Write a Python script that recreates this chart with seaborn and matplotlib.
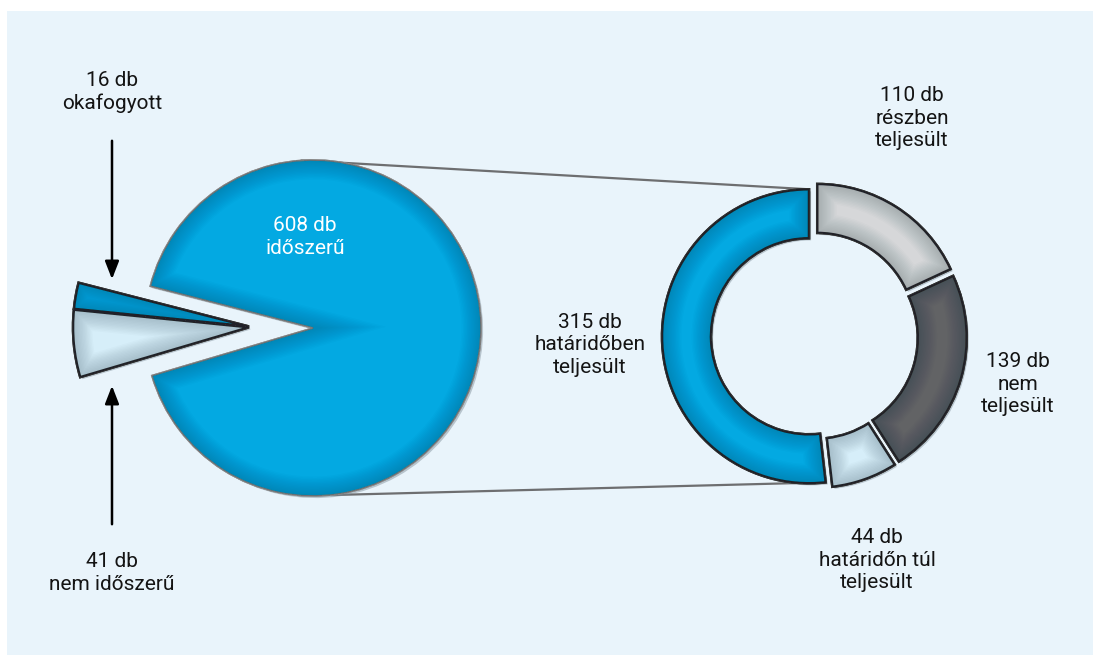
import numpy as np
import pandas as pd
import matplotlib
matplotlib.use("Agg")
import matplotlib.pyplot as plt
import seaborn as sns
from matplotlib.patches import Rectangle, Wedge
import matplotlib.patheffects as pe

# ---- data ----
outer_labels = ["okafogyott", "nem időszerű", "időszerű"]
outer_values = [16, 41, 608]
inner_labels = ["határidőben teljesült", "határidőn túl teljesült", "nem teljesült", "részben teljesült"]
inner_values = [315, 44, 139, 110]

sns.set_theme(style="white")
plt.rcParams['font.family'] = ['Roboto', 'DejaVu Sans']

W, H = 1093, 655
fig = plt.figure(figsize=(W / 100, H / 100), dpi=100)
fig.patch.set_facecolor("white")
ax = fig.add_axes([0, 0, 1, 1])
ax.set_xlim(0, W)
ax.set_ylim(0, H)
ax.set_aspect("equal")
ax.axis("off")

bg = "#e9f4fb"
ax.add_patch(Rectangle((7, 0), W - 7, H - 11, facecolor=bg, edgecolor="none", zorder=0))

blue = "#03a9e2"
light_blue = "#d6eef9"
light_gray = "#d6d7d9"
dark_gray = "#626365"
edge = "#2e2e2e"

shadow = [pe.withSimplePatchShadow(offset=(1.5, -1.5), shadow_rgbFace="#7a8a95", alpha=0.45), pe.Normal()]


def inner_shade(w, color="#001a28", widths=tuple(range(28, 0, -2)), alpha=0.016):
    """Soft bevel: dark translucent outlines clipped to the wedge itself."""
    for lw in widths:
        s = Wedge(w.center, w.r, w.theta1, w.theta2, width=w.width,
                  facecolor="none", edgecolor=color, linewidth=lw, alpha=alpha,
                  zorder=w.get_zorder() + 0.1)
        ax.add_patch(s)
        s.set_clip_path(w)


# big pie (main slice)
cx, cy, R = 313, 327, 168
start = 165.6
big_w, _ = ax.pie(outer_values, colors=["none", "none", blue], startangle=start,
                  counterclock=True, center=(cx, cy), radius=R, frame=True,
                  wedgeprops=dict(edgecolor="none", linewidth=0))
big_w[2].set_edgecolor("#8a8a8a")
big_w[2].set_linewidth(1.2)
big_w[2].set_path_effects(shadow)

# small exploded slices (shifted left)
small_w, _ = ax.pie(outer_values, colors=[blue, light_blue, "none"], startangle=start,
                    counterclock=True, center=(cx - 61, cy + 1), radius=R + 8,
                    explode=[3, 3, 0], frame=True,
                    wedgeprops=dict(edgecolor=edge, linewidth=1.8))
small_w[2].set_edgecolor("none")
for w in small_w[:2]:
    w.set_path_effects(shadow)

# donut
dcx, dcy, DR = 814, 319, 147
don_w, _ = ax.pie(inner_values, colors=[blue, light_blue, dark_gray, light_gray], startangle=90,
                  counterclock=True, center=(dcx, dcy), radius=DR,
                  explode=[5, 5, 6, 6], frame=True,
                  wedgeprops=dict(width=DR / 3, edgecolor=edge, linewidth=1.8))
for w in don_w:
    w.set_path_effects(shadow)

for w in [big_w[2]] + list(small_w[:2]) + list(don_w):
    inner_shade(w)

ax.set_xlim(0, W)
ax.set_ylim(0, H)
ax.axis("off")

# connector lines from big pie to donut's blue segment
bw = don_w[0]
bc = np.array(bw.center)
p_top_d = bc + bw.r * np.array([np.cos(np.radians(bw.theta1)), np.sin(np.radians(bw.theta1))])
p_bot_d = bc + bw.r * np.array([np.cos(np.radians(bw.theta2)), np.sin(np.radians(bw.theta2))])
p_top_b = np.array([cx, cy]) + R * np.array([np.cos(np.radians(94)), np.sin(np.radians(94))])
p_bot_b = np.array([cx, cy]) + R * np.array([np.cos(np.radians(276)), np.sin(np.radians(276))])
for a, b in [(p_top_b, p_top_d), (p_bot_b, p_bot_d)]:
    ax.plot([a[0], b[0]], [a[1], b[1]], color="#6d6e70", lw=1.6, zorder=0.5,
            solid_capstyle="round")

fs = 15
txt = dict(ha="center", va="center", fontsize=fs, color="#141414", linespacing=1.25)


def ty(py):
    return H - py


ax.text(112, ty(92), f"{outer_values[0]} db\n{outer_labels[0]}", **txt)
ax.text(112, ty(573), f"{outer_values[1]} db\n{outer_labels[1]}", **txt)
ax.text(305, ty(237), f"{outer_values[2]} db\nidőszerű", ha="center", va="center",
        fontsize=fs, color="white", linespacing=1.25)
ax.text(590, ty(345), f"{inner_values[0]} db\nhatáridőben\nteljesült", **txt)
ax.text(912, ty(118), f"{inner_values[3]} db\nrészben\nteljesült", **txt)
ax.text(1018, ty(384), f"{inner_values[2]} db\nnem\nteljesült", **txt)
ax.text(877, ty(560), f"{inner_values[1]} db\nhatáridőn túl\nteljesült", **txt)

arrow = dict(arrowstyle="-|>,head_length=0.9,head_width=0.35", color="black", lw=1.8)
ax.annotate("", xy=(112, ty(282)), xytext=(112, ty(138)), arrowprops=arrow)
ax.annotate("", xy=(112, ty(383)), xytext=(112, ty(527)), arrowprops=arrow)

fig.savefig("out.png", dpi=100, facecolor=fig.get_facecolor())
